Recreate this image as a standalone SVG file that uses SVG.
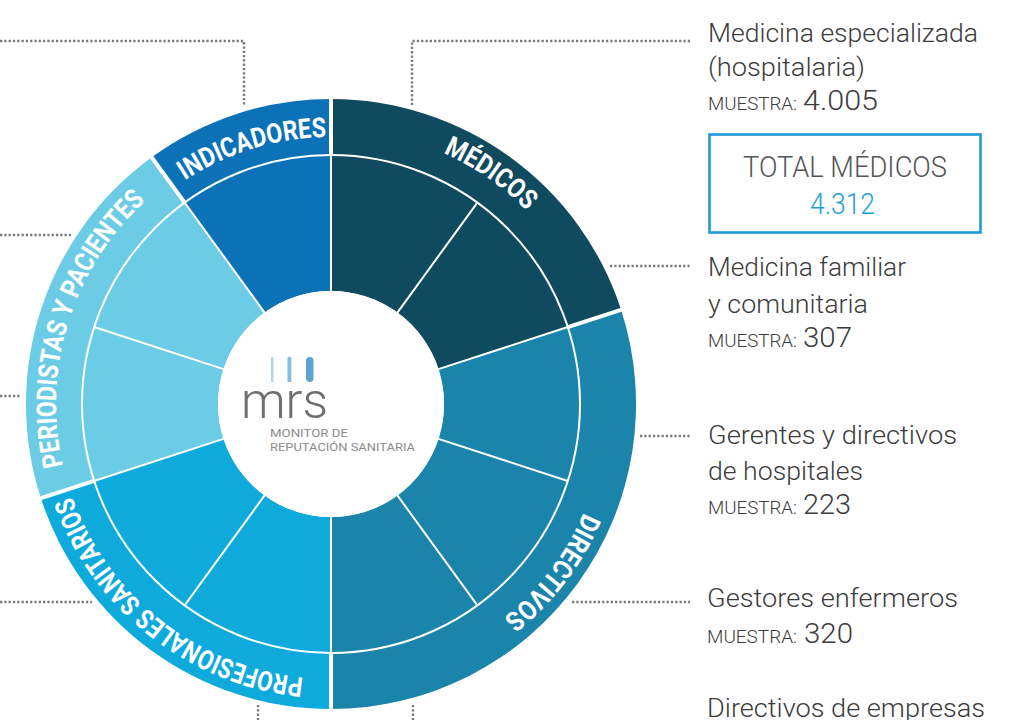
<svg xmlns="http://www.w3.org/2000/svg" xmlns:xlink="http://www.w3.org/1999/xlink" width="1010" height="720" viewBox="0 0 1010 720">
<style>
.conn{fill:none;stroke:#7b7b7b;stroke-width:2.4;stroke-dasharray:2.3 2}
.ring{font-family:Roboto,"Liberation Sans",sans-serif;font-weight:700;font-size:27.5px;fill:#ffffff}
.lab{font-family:Roboto,"Liberation Sans",sans-serif;font-weight:300;font-size:26px;fill:#3c3c3c}
.mu{font-family:Roboto,"Liberation Sans",sans-serif;font-weight:300;font-size:18px;fill:#3c3c3c}
.num{font-family:Roboto,"Liberation Sans",sans-serif;font-weight:300;font-size:28px;fill:#3c3c3c}
.sep{stroke:#ffffff;fill:none}
</style>
<defs>
<path id="ringA" d="M 606,404 A 275,275 0 1,1 56,404 A 275,275 0 1,1 606,404"/>
<path id="ringB" d="M 598,404 A 267,267 0 1,1 64,404 A 267,267 0 1,1 598,404"/>
</defs>
<rect width="1010" height="720" fill="#ffffff"/>

<g id="connectors">
<path class="conn" d="M0,41 H244 V106"/>
<path class="conn" d="M0,235 H72"/>
<path class="conn" d="M0,396 H21"/>
<path class="conn" d="M0,602 H92"/>
<path class="conn" d="M258,705 V720"/>
<path class="conn" d="M413,705 V720"/>
<path class="conn" d="M412,105 V41 H690"/>
<path class="conn" d="M610,266 H690"/>
<path class="conn" d="M640,436 H690"/>
<path class="conn" d="M572,602 H690"/>
</g>

<g id="medicos">
<path fill="#0f4a5f" d="M331,99 A305,305 0 0,1 621.09,309.75 L438.47,369.08 A113,113 0 0,0 331,291 Z"/>
<text class="ring"><textPath xlink:href="#ringA" href="#ringA" startOffset="1411" textLength="102" lengthAdjust="spacingAndGlyphs">MÉDICOS</textPath></text>
</g>
<g id="directivos">
<path fill="#1a84aa" d="M621.09,309.75 A305,305 0 0,1 331,709 L331,517 A113,113 0 0,0 438.47,369.08 Z"/>
<text class="ring"><textPath xlink:href="#ringA" href="#ringA" startOffset="111.5" textLength="134" lengthAdjust="spacingAndGlyphs">DIRECTIVOS</textPath></text>
</g>
<g id="profesionales">
<path fill="#0eaadc" d="M331,709 A305,305 0 0,1 40.91,498.25 L223.53,438.92 A113,113 0 0,0 331,517 Z"/>
<text class="ring"><textPath xlink:href="#ringA" href="#ringA" startOffset="459.5" textLength="310" lengthAdjust="spacingAndGlyphs">PROFESIONALES SANITARIOS</textPath></text>
</g>
<g id="periodistas">
<path fill="#6dcce5" d="M40.91,498.25 A305,305 0 0,1 151.72,157.25 L264.58,312.58 A113,113 0 0,0 223.53,438.92 Z"/>
<text class="ring"><textPath xlink:href="#ringA" href="#ringA" startOffset="801" textLength="291" lengthAdjust="spacingAndGlyphs">PERIODISTAS Y PACIENTES</textPath></text>
</g>
<g id="indicadores">
<path fill="#0b72b8" d="M151.72,157.25 A305,305 0 0,1 331,99 L331,291 A113,113 0 0,0 264.58,312.58 Z"/>
<text class="ring"><textPath xlink:href="#ringB" href="#ringB" startOffset="1103" textLength="150" lengthAdjust="spacingAndGlyphs">INDICADORES</textPath></text>
</g>

<g id="separators">
<circle class="sep" cx="331" cy="404" r="249" stroke-width="2"/>
<path class="sep" stroke-width="2" d="M397.42,312.58 L477.36,202.56 M438.47,438.92 L567.82,480.94 M397.42,495.42 L477.36,605.44 M264.58,495.42 L184.64,605.44 M223.53,369.08 L94.18,327.06"/>
<path class="sep" stroke-width="2" d="M331,291 V155 M438.47,369.08 L567.82,327.06 M331,517 V653 M223.53,438.92 L94.18,480.94 M264.58,312.58 L184.64,202.56"/>
<path class="sep" stroke-width="4" d="M331,155 V96 M567.82,327.06 L624,308.8 M331,653 V712 M94.18,480.94 L38,499.2 M184.64,202.56 L150,155"/>
</g>

<g id="logo">
<circle cx="331" cy="404" r="113" fill="#ffffff"/>
<rect x="271" y="357" width="2.4" height="25" fill="#b3d4e8"/>
<rect x="287.5" y="357" width="3.8" height="25" fill="#86bcdc"/>
<rect x="306" y="357" width="7.5" height="25" rx="3.7" fill="#5fa3d1"/>
<text x="241" y="418" font-family="Roboto,'Liberation Sans',sans-serif" font-weight="300" font-size="50" fill="#6d6e71" textLength="87" lengthAdjust="spacingAndGlyphs">mrs</text>
<text x="270" y="437" font-family="Roboto,'Liberation Sans',sans-serif" font-size="10.3" fill="#8c8c8c" textLength="78" lengthAdjust="spacingAndGlyphs">MONITOR DE</text>
<text x="270" y="451" font-family="Roboto,'Liberation Sans',sans-serif" font-size="10.3" fill="#8c8c8c" textLength="145" lengthAdjust="spacingAndGlyphs">REPUTACIÓN SANITARIA</text>
</g>

<g id="especializada">
<text class="lab" x="708" y="42" textLength="270" lengthAdjust="spacingAndGlyphs">Medicina especializada</text>
<text class="lab" x="708" y="75.5" textLength="157" lengthAdjust="spacingAndGlyphs">(hospitalaria)</text>
<text class="mu" x="708" y="110" textLength="89" lengthAdjust="spacingAndGlyphs">MUESTRA:</text>
<text class="num" x="803" y="110" textLength="75" lengthAdjust="spacingAndGlyphs">4.005</text>
</g>

<g id="total-medicos">
<rect x="709.5" y="134.5" width="271" height="98" fill="none" stroke="#1b9bd7" stroke-width="2.6"/>
<text x="845" y="177" text-anchor="middle" font-family="Roboto,'Liberation Sans',sans-serif" font-weight="300" font-size="30" fill="#555555" textLength="204" lengthAdjust="spacingAndGlyphs">TOTAL MÉDICOS</text>
<text x="842.5" y="214" text-anchor="middle" font-family="Roboto,'Liberation Sans',sans-serif" font-weight="300" font-size="30" fill="#1ba0dc" textLength="65" lengthAdjust="spacingAndGlyphs">4.312</text>
</g>

<g id="familiar">
<text class="lab" x="708" y="276" textLength="198" lengthAdjust="spacingAndGlyphs">Medicina familiar</text>
<text class="lab" x="708" y="312.5" textLength="160" lengthAdjust="spacingAndGlyphs">y comunitaria</text>
<text class="mu" x="708" y="346.5" textLength="89" lengthAdjust="spacingAndGlyphs">MUESTRA:</text>
<text class="num" x="803" y="346.5" textLength="49" lengthAdjust="spacingAndGlyphs">307</text>
</g>

<g id="gerentes">
<text class="lab" x="708" y="444" textLength="249" lengthAdjust="spacingAndGlyphs">Gerentes y directivos</text>
<text class="lab" x="708" y="480" textLength="155" lengthAdjust="spacingAndGlyphs">de hospitales</text>
<text class="mu" x="708" y="514" textLength="89" lengthAdjust="spacingAndGlyphs">MUESTRA:</text>
<text class="num" x="803" y="514" textLength="48" lengthAdjust="spacingAndGlyphs">223</text>
</g>

<g id="gestores">
<text class="lab" x="707" y="607" textLength="251" lengthAdjust="spacingAndGlyphs">Gestores enfermeros</text>
<text class="mu" x="707" y="643" textLength="90" lengthAdjust="spacingAndGlyphs">MUESTRA:</text>
<text class="num" x="804" y="643" textLength="49" lengthAdjust="spacingAndGlyphs">320</text>
</g>

<g id="empresas">
<text class="lab" x="707" y="717" textLength="278" lengthAdjust="spacingAndGlyphs">Directivos de empresas</text>
</g>
</svg>
